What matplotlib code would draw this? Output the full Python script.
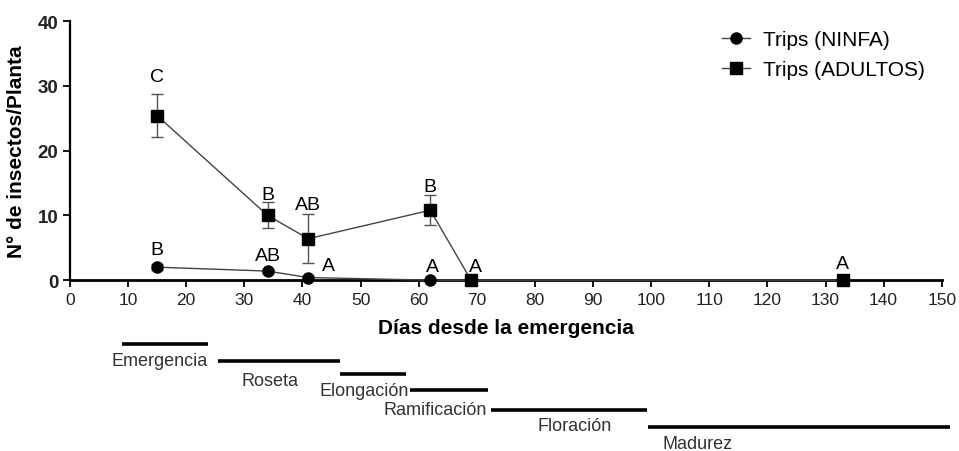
import numpy as np
import matplotlib.pyplot as plt
from matplotlib.lines import Line2D
from matplotlib.transforms import blended_transform_factory

plt.rcParams['font.family'] = ['Liberation Sans', 'DejaVu Sans']

# datos
dias_ninfa = [15, 34, 41, 62, 69]
ninfa = [2.0, 1.4, 0.4, 0.0, 0.0]
ninfa_err = [0.5, 0.3, 0.2, 0.0, 0.0]
letras_ninfa = ['B', 'AB', 'A', 'A', '']

dias_adulto = [15, 34, 41, 62, 69, 133]
adulto = [25.4, 10.0, 6.4, 10.8, 0.0, 0.0]
adulto_err = [3.3, 2.0, 3.8, 2.3, 0.0, 0.0]
letras_adulto = ['C', 'B', 'AB', 'B', 'A', 'A']

fases = ['Emergencia', 'Roseta', 'Elongación', 'Ramificación', 'Floración', 'Madurez']
fase_ini = [9, 25.5, 46.5, 58.5, 72.5, 99.5]
fase_fin = [23.7, 46.5, 57.8, 72.0, 99.3, 151.5]

fig = plt.figure(figsize=(9.59, 4.52), dpi=100)
ax = fig.add_axes([0.073, 0.378, 0.909, 0.573])

ax.errorbar(dias_ninfa, ninfa, yerr=ninfa_err, color='#444444', lw=1.0,
            marker='o', ms=8, mfc='black', mec='black', capsize=4,
            ecolor='#555555', elinewidth=1.0, clip_on=False, zorder=3)
ax.errorbar(dias_adulto, adulto, yerr=adulto_err, color='#444444', lw=1.0,
            marker='s', ms=8.5, mfc='black', mec='black', capsize=4,
            ecolor='#555555', elinewidth=1.0, clip_on=False, zorder=3)

# letras de significancia (posicion de la linea base sobre la barra de error)
offs_n = [(0, 1.5), (0, 1.4), (3.4, 1.0), (0.3, 1.4), (0, 0)]
for x, y, e, t, o in zip(dias_ninfa, ninfa, ninfa_err, letras_ninfa, offs_n):
    ax.text(x + o[0], y + e + o[1], t, ha='center', va='baseline', fontsize=14)
offs_a = [(0, 2.0), (0, 0.5), (0, 0.8), (0, 0.6), (0.7, 1.4), (0, 1.8)]
for x, y, e, t, o in zip(dias_adulto, adulto, adulto_err, letras_adulto, offs_a):
    ax.text(x + o[0], y + e + o[1], t, ha='center', va='baseline', fontsize=14)

ax.set_xlim(0, 150)
ax.set_ylim(0, 40)
ax.set_xticks(np.arange(0, 151, 10))
ax.set_yticks(np.arange(0, 41, 10))
ax.tick_params(axis='x', labelsize=12.5, width=1.3, length=5, labelcolor='#222222')
ax.tick_params(axis='y', labelsize=13.5, width=1.3, length=5, labelcolor='#222222')
for lab in ax.get_yticklabels():
    lab.set_fontweight('bold')
for s in ['top', 'right']:
    ax.spines[s].set_visible(False)
ax.spines['left'].set_linewidth(1.6)
ax.spines['bottom'].set_linewidth(2.0)
ax.set_xlabel('Días desde la emergencia', fontsize=15, fontweight='bold', labelpad=8)
ax.set_ylabel('N° de insectos/Planta', fontsize=15, fontweight='bold', labelpad=8)

handles = [Line2D([], [], color='#444444', lw=1.0, marker='o', ms=8, mfc='black', mec='black'),
           Line2D([], [], color='#444444', lw=1.0, marker='s', ms=8.5, mfc='black', mec='black')]
ax.legend(handles, ['Trips (NINFA)', 'Trips (ADULTOS)'], loc='upper left',
          bbox_to_anchor=(722 / 959, 1 - 31 / 452), bbox_transform=fig.transFigure,
          frameon=False, fontsize=15, handlelength=1.35, handletextpad=0.6,
          labelspacing=0.55, borderpad=0, borderaxespad=0)

# fases fenologicas debajo del eje
tr = blended_transform_factory(ax.transData, fig.transFigure)
bar_y = [1 - 345 / 452, 1 - 362 / 452, 1 - 375 / 452, 1 - 391 / 452, 1 - 411 / 452, 1 - 428 / 452]
txt_y = [1 - 362 / 452, 1 - 381 / 452, 1 - 392 / 452, 1 - 411 / 452, 1 - 427 / 452, 1 - 445 / 452]
txt_x = [15.5, 34.4, 50.6, 62.8, 86.9, 107.9]
for f, a, b, yb, yt, xt in zip(fases, fase_ini, fase_fin, bar_y, txt_y, txt_x):
    ax.plot([a, b], [yb, yb], transform=tr, color='black', lw=2.6, clip_on=False,
            solid_capstyle='butt')
    ax.text(xt, yt, f, transform=tr, ha='center', va='center', fontsize=13, color='#333333')

fig.savefig('out.png', dpi=100)
